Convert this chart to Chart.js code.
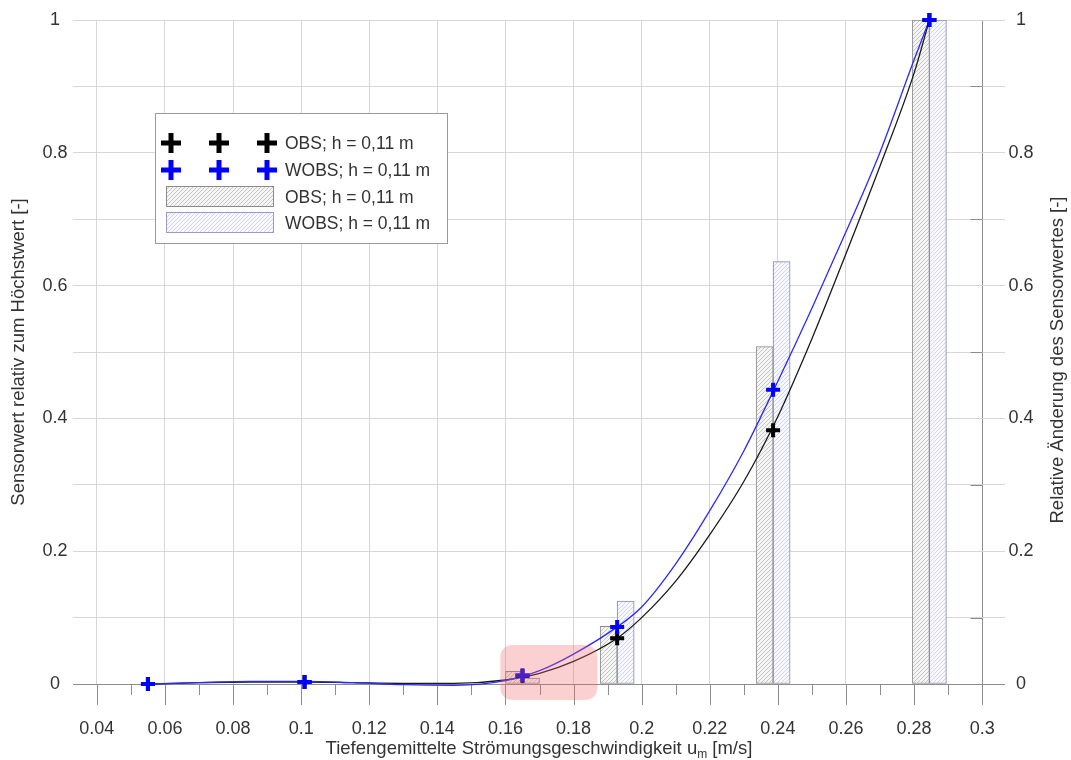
<!DOCTYPE html>
<html>
<head>
<meta charset="utf-8">
<title>Sensorwert</title>
<script src="https://cdn.jsdelivr.net/npm/chart.js@4.4.0/dist/chart.umd.min.js"></script>
<style>
  body { margin: 0; background: #fff; }
  #wrap { width: 1071px; height: 760px; }
</style>
</head>
<body>
<div id="wrap"><canvas id="chart"></canvas></div>
<script>
// measured points: depth-averaged velocity [m/s] vs. normalised sensor value
const pointX = [0.055, 0.101, 0.165, 0.1928, 0.2386, 0.2845];
const obsPoints = [0, 0.003, 0.012, 0.069, 0.382, 1.0];
const wobsPoints = [0, 0.003, 0.013, 0.086, 0.443, 1.0];

// relative change of the sensor value (bars, right axis)
const barX = [0.165, 0.1928, 0.2386, 0.2845];
const obsChange = [0.019, 0.087, 0.508, 1.0];
const wobsChange = [0.009, 0.125, 0.636, 1.0];

// fitted curves
const fitX = [0.055, 0.07, 0.085, 0.101, 0.115, 0.13, 0.145, 0.16, 0.17, 0.18, 0.1928,
  0.2, 0.21, 0.22, 0.23, 0.24, 0.25, 0.26, 0.27, 0.28, 0.2845];
const obsFitY = [0, 0.002, 0.003, 0.003, 0.002, 0.001, 0.001, 0.006, 0.016, 0.034, 0.069,
  0.1, 0.155, 0.225, 0.305, 0.403, 0.52, 0.648, 0.78, 0.92, 1.0];
const wobsFitY = [0, 0.002, 0.004, 0.004, 0.002, -0.001, -0.002, 0.005, 0.02, 0.045, 0.086,
  0.116, 0.181, 0.261, 0.351, 0.456, 0.566, 0.681, 0.801, 0.94, 1.0];

const seriesNames = ['OBS; h = 0,11 m', 'WOBS; h = 0,11 m'];

const xTicks = [0.04, 0.06, 0.08, 0.1, 0.12, 0.14, 0.16, 0.18, 0.2, 0.22, 0.24, 0.26, 0.28, 0.3];
const xMinorTicks = [0.05, 0.07, 0.09, 0.11, 0.13, 0.15, 0.17, 0.19, 0.21, 0.23, 0.25, 0.27, 0.29];
const yTicks = [0, 0.1, 0.2, 0.3, 0.4, 0.5, 0.6, 0.7, 0.8, 0.9, 1];

// highlighted range around the 0.165 m/s measurement (data units)
const markX = [0.1585, 0.187];
const markY = [-0.024, 0.0587];

const FONT = "'Liberation Sans', Arial, Helvetica, sans-serif";
const TEXT = '#333333';

function hatch(bg, line) {
  const c = document.createElement('canvas');
  c.width = 4; c.height = 4;
  const g = c.getContext('2d');
  g.fillStyle = bg;
  g.fillRect(0, 0, 4, 4);
  g.strokeStyle = line;
  g.lineWidth = 0.7;
  g.beginPath();
  g.moveTo(-1, 5); g.lineTo(5, -1);
  g.moveTo(-1, 1); g.lineTo(1, -1);
  g.moveTo(3, 5); g.lineTo(5, 3);
  g.stroke();
  return g.createPattern(c, 'repeat');
}
const greyHatch = hatch('#f5f5f5', '#b0b0b0');
const blueHatch = hatch('#f8f8ff', '#c0c4f2');

function xy(xs, ys) {
  return xs.map((x, i) => ({x: x, y: ys[i]}));
}

function drawCross(ctx, cx, cy, r, w, color) {
  ctx.strokeStyle = color;
  ctx.lineWidth = w;
  ctx.lineCap = 'butt';
  ctx.beginPath();
  ctx.moveTo(cx - r, cy); ctx.lineTo(cx + r, cy);
  ctx.moveTo(cx, cy - r); ctx.lineTo(cx, cy + r);
  ctx.stroke();
}

const extras = {
  id: 'extras',
  beforeDatasetsDraw(chart) {
    const {ctx, chartArea, scales: {x, y}} = chart;
    ctx.save();
    ctx.strokeStyle = '#8c8c8c';
    ctx.lineWidth = 1;
    ctx.beginPath();
    xTicks.forEach(v => {
      const px = Math.round(x.getPixelForValue(v)) + 0.5;
      ctx.moveTo(px, chartArea.bottom);
      ctx.lineTo(px, chartArea.bottom + 21);
    });
    xMinorTicks.forEach(v => {
      const px = Math.round(x.getPixelForValue(v)) + 0.5;
      ctx.moveTo(px, chartArea.bottom);
      ctx.lineTo(px, chartArea.bottom + 11);
    });
    // inner ticks on the right frame line
    const xr = Math.round(x.getPixelForValue(0.3)) + 0.5;
    yTicks.forEach((v, i) => {
      if (i % 2 === 1) {
        const py = Math.round(y.getPixelForValue(v)) + 0.5;
        ctx.moveTo(xr - 12, py);
        ctx.lineTo(xr, py);
      }
    });
    ctx.stroke();
    ctx.restore();
  },
  afterDatasetsDraw(chart) {
    const {ctx, scales: {x, y}} = chart;
    const x0 = x.getPixelForValue(markX[0]), x1 = x.getPixelForValue(markX[1]);
    const y0 = y.getPixelForValue(markY[1]), y1 = y.getPixelForValue(markY[0]);
    ctx.save();
    ctx.fillStyle = 'rgba(240, 100, 100, 0.3)';
    ctx.beginPath();
    ctx.roundRect(x0, y0, x1 - x0, y1 - y0, 12);
    ctx.fill();
    ctx.restore();
  },
  afterDraw(chart) {
    const {ctx, chartArea} = chart;
    ctx.save();

    // legend
    ctx.fillStyle = '#ffffff';
    ctx.fillRect(155.5, 113.5, 292, 130);
    ctx.strokeStyle = '#999999';
    ctx.lineWidth = 1;
    ctx.strokeRect(155.5, 113.5, 292, 130);
    const rowY = [143, 170, 197, 223];
    const crossCol = ['#000000', '#0000ff'];
    [0, 1].forEach(i => {
      [171, 219, 267].forEach(cx => drawCross(ctx, cx, rowY[i], 10, 5, crossCol[i]));
    });
    [greyHatch, blueHatch].forEach((p, i) => {
      ctx.fillStyle = p;
      ctx.fillRect(166.5, rowY[i + 2] - 10.5, 107, 20);
      ctx.lineWidth = 1;
      ctx.strokeStyle = i === 0 ? '#8a8a8a' : '#9a9acc';
      ctx.strokeRect(166.5, rowY[i + 2] - 10.5, 107, 20);
    });
    ctx.fillStyle = TEXT;
    ctx.font = '17.5px ' + FONT;
    ctx.textAlign = 'left';
    ctx.textBaseline = 'middle';
    [0, 1, 0, 1].forEach((n, i) => ctx.fillText(seriesNames[n], 285, rowY[i] + 1));

    // axis titles
    ctx.font = '18.5px ' + FONT;
    ctx.textAlign = 'center';
    ctx.save();
    ctx.translate(19, (chartArea.top + chartArea.bottom) / 2);
    ctx.rotate(-Math.PI / 2);
    ctx.fillText('Sensorwert relativ zum Höchstwert [-]', 0, 0);
    ctx.restore();
    ctx.save();
    ctx.translate(1058, (chartArea.top + chartArea.bottom) / 2 + 8);
    ctx.rotate(-Math.PI / 2);
    ctx.fillText('Relative Änderung des Sensorwertes [-]', 0, 0);
    ctx.restore();

    // x title with subscript
    const a = 'Tiefengemittelte Strömungsgeschwindigkeit u', s = 'm', b = ' [m/s]';
    ctx.font = '18.5px ' + FONT;
    const wa = ctx.measureText(a).width, wb = ctx.measureText(b).width;
    ctx.font = '12px ' + FONT;
    const ws = ctx.measureText(s).width;
    const tx = (chartArea.left + chartArea.right) / 2 - (wa + ws + wb) / 2;
    const ty = 749;
    ctx.textAlign = 'left';
    ctx.font = '18.5px ' + FONT;
    ctx.fillText(a, tx, ty);
    ctx.font = '12px ' + FONT;
    ctx.fillText(s, tx + wa, ty + 6);
    ctx.font = '18.5px ' + FONT;
    ctx.fillText(b, tx + wa + ws, ty);
    ctx.restore();
  }
};

Chart.defaults.font.family = FONT;
Chart.defaults.font.size = 18;
Chart.defaults.color = TEXT;

const fmt = v => String(+(+v).toFixed(2));
const yLabel = v => (Math.round(v * 10) % 2 === 0 ? fmt(v) : '');

new Chart(document.getElementById('chart'), {
  type: 'bar',
  data: {
    datasets: [
      {
        type: 'line', label: 'WOBS', data: xy(pointX, wobsPoints), showLine: false,
        pointStyle: 'cross', pointRadius: 7, pointBorderWidth: 4, pointBorderColor: '#0000ff',
        borderColor: '#0000ff', clip: false, order: 0
      },
      {
        type: 'line', label: 'OBS', data: xy(pointX, obsPoints), showLine: false,
        pointStyle: 'cross', pointRadius: 7, pointBorderWidth: 4, pointBorderColor: '#000000',
        borderColor: '#000000', clip: false, order: 1
      },
      {
        type: 'line', label: 'WOBS fit', data: xy(fitX, wobsFitY), borderColor: '#2a2aff',
        borderWidth: 1.3, pointRadius: 0, cubicInterpolationMode: 'monotone', clip: false, order: 2
      },
      {
        type: 'line', label: 'OBS fit', data: xy(fitX, obsFitY), borderColor: '#1a1a1a',
        borderWidth: 1.3, pointRadius: 0, cubicInterpolationMode: 'monotone', clip: false, order: 3
      },
      {
        type: 'bar', label: 'OBS change', data: xy(barX, obsChange), backgroundColor: greyHatch,
        borderColor: '#8a8a8a', borderWidth: 1, borderSkipped: false, barThickness: 17, order: 4
      },
      {
        type: 'bar', label: 'WOBS change', data: xy(barX, wobsChange), backgroundColor: blueHatch,
        borderColor: '#8a8a9a', borderWidth: 1, borderSkipped: false, barThickness: 17, order: 4
      }
    ]
  },
  options: {
    responsive: true,
    maintainAspectRatio: false,
    animation: false,
    layout: { padding: { top: 20, left: 0, right: 0, bottom: 0 } },
    plugins: {
      legend: { display: false },
      tooltip: { enabled: false }
    },
    scales: {
      x: {
        type: 'linear',
        min: 0.033,
        max: 0.3067,
        offset: false,
        afterBuildTicks: s => { s.ticks = xTicks.map(v => ({value: v})); },
        afterFit: s => { s.height = 76; },
        grid: {
          offset: false,
          drawTicks: false,
          color: c => (c.tick && Math.abs(c.tick.value - 0.3) < 1e-6 ? '#8c8c8c' : '#d6d6d6')
        },
        border: { display: false },
        ticks: { padding: 34, maxRotation: 0, autoSkip: false, callback: v => fmt(v) }
      },
      y: {
        position: 'left',
        min: 0,
        max: 1,
        afterBuildTicks: s => { s.ticks = yTicks.map(v => ({value: v})); },
        afterFit: s => { s.width = 73; },
        grid: {
          drawTicks: false,
          color: c => (c.tick && c.tick.value === 0 ? '#8c8c8c' : '#d6d6d6')
        },
        border: { display: false },
        ticks: { padding: 5.5, crossAlign: 'center', autoSkip: false, callback: yLabel }
      },
      y2: {
        axis: 'y',
        position: 'right',
        min: 0,
        max: 1,
        afterBuildTicks: s => { s.ticks = yTicks.map(v => ({value: v})); },
        afterFit: s => { s.width = 66; },
        grid: { display: false, drawTicks: false },
        border: { display: false },
        ticks: { padding: 3.5, crossAlign: 'center', autoSkip: false, callback: yLabel }
      }
    }
  },
  plugins: [extras]
});
</script>
</body>
</html>
